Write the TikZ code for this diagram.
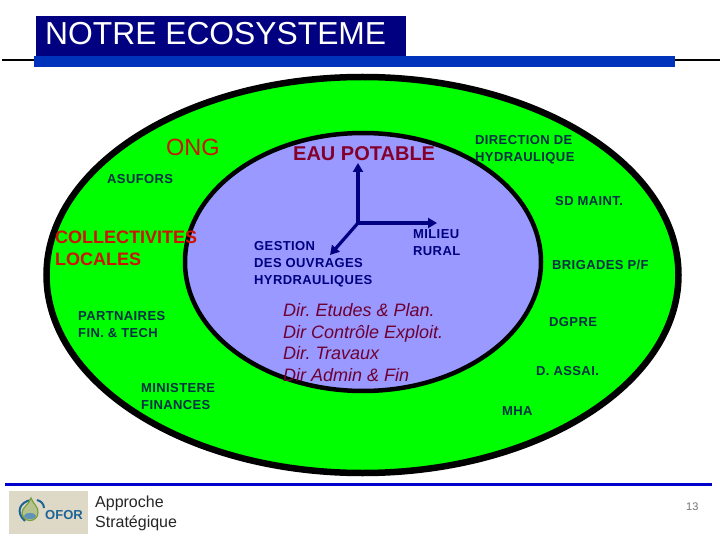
\documentclass[tikz,border=0pt]{standalone}
\usepackage{fontspec}
\setmainfont{Liberation Sans}
\newfontfamily\labfont[LetterSpace=3]{Liberation Sans}
\usetikzlibrary{arrows.meta}
\definecolor{titleNavy}{RGB}{0,0,128}
\definecolor{barBlue}{RGB}{0,51,187}
\definecolor{footBlue}{RGB}{0,0,204}
\definecolor{ringGreen}{RGB}{0,255,0}
\definecolor{coreBlue}{RGB}{153,153,255}
\definecolor{labelDark}{RGB}{0,48,70}
\definecolor{labelRed}{RGB}{204,20,0}
\definecolor{labelWine}{RGB}{110,0,50}
\definecolor{logoTan}{RGB}{222,216,198}
\definecolor{logoBlue}{RGB}{30,100,150}
\definecolor{logoGreen}{RGB}{120,160,60}
\newcommand{\pxfont}[1]{\fontsize{#1}{#1}\selectfont}
\tikzset{
	lab/.style={anchor=west,inner sep=0pt,align=left,text=labelDark,font=\pxfont{13}\labfont\bfseries,text depth=0pt},
	redlab/.style={lab,text=labelRed},
	axe/.style={draw=titleNavy,line width=3.2pt,-{Triangle[length=9pt,width=10pt]}}
}
\begin{document}
\begin{tikzpicture}[x=1pt,y=-1pt]
	\useasboundingbox (0,0) rectangle (720,540);
	\fill[white] (0,0) rectangle (720,540);

	% Header
	\draw[line width=1.5pt] (2,60) -- (720,60);
	\fill[barBlue] (34,56) rectangle (675,67);
	\fill[titleNavy] (36,16) rectangle (406,56);
	\node[anchor=west,inner sep=0pt,text=white,font=\pxfont{31.8}] (titre) at (45,34) {NOTRE ECOSYSTEME};

	% Rings
	\draw[fill=ringGreen,line width=6.5pt] (362.5,275) ellipse [x radius=316,y radius=198];
	\draw[fill=coreBlue,line width=4.5pt] (363,262) ellipse [x radius=178,y radius=129];

	% Axes
	\coordinate (axeO) at (358,223);
	\coordinate (axeH) at (358,163);
	\coordinate (axeD) at (437,223);
	\coordinate (axeG) at (330,255);
	\draw[axe] (axeO) -- (axeH);
	\draw[axe] (axeO) -- (axeD);
	\draw[axe] (axeO) -- (axeG);

	% Outer ring
	\node[redlab,font=\pxfont{23.5}] (ong) at (166,147) {ONG};
	\node[lab] (asufors) at (107,179) {ASUFORS};
	\node[redlab,font=\pxfont{18}\bfseries] (collect) at (55,248.5) {COLLECTIVITES\\[4pt]LOCALES};
	\node[lab] (partners) at (78,324) {PARTNAIRES\\[4pt]FIN. \& TECH};
	\node[lab] (minist) at (141,396.5) {MINISTERE\\[4pt]FINANCES};
	\node[lab] (hydrau) at (475,148) {DIRECTION DE\\[4pt]HYDRAULIQUE};
	\node[lab] (sdmaint) at (555,201) {SD MAINT.};
	\node[lab] (brigades) at (552,265) {BRIGADES P/F};
	\node[lab] (dgpre) at (549,322) {DGPRE};
	\node[lab] (assai) at (536,371) {D. ASSAI.};
	\node[lab] (mha) at (502,411) {MHA};

	% Core
	\node[redlab,font=\pxfont{20}\bfseries,text=labelWine!85!red] (eau) at (293,154) {EAU POTABLE};
	\node[lab,text=titleNavy] (gestion) at (254,262.5) {GESTION\\[4pt]DES OUVRAGES\\[4pt]HYRDRAULIQUES};
	\node[lab,text=titleNavy] (milieu) at (413,243) {MILIEU\\[4pt]RURAL};
	\node[lab,text=labelWine,font=\pxfont{18}\itshape\frenchspacing] (dirs) at (283,342.5) {Dir. Etudes \& Plan.\\[3.7pt]Dir Contrôle Exploit.\\[3.7pt]Dir. Travaux\\[3.7pt]Dir Admin \& Fin};

	% Footer
	\draw[footBlue,line width=3pt] (5,484) -- (712,484);
	\fill[logoTan] (9,491) rectangle (88,534);
	\draw[logoBlue,line width=2pt] (31,500) .. controls (20,502) and (15,512) .. (25,521);
	\draw[logoBlue,line width=2pt] (37,500) .. controls (41,501) and (44,504) .. (44,508);
	\draw[logoGreen,fill=logoTan!60!logoGreen,line width=1.2pt] (31,498) .. controls (33,504) and (39,507) .. (38,513) .. controls (37,523) and (23,523) .. (22,513) .. controls (22,507) and (29,505) .. cycle;
	\fill[logoBlue!70] (30,516) ellipse [x radius=6,y radius=3];
	\node[anchor=west,inner sep=0pt,text=logoBlue,font=\pxfont{13}\bfseries] (logo) at (45,515) {OFOR};
	\node[anchor=west,inner sep=0pt,align=left,text=black!85,font=\pxfont{16}] (approche) at (95,513.5) {Approche\\[4pt]Stratégique};
	\node[anchor=west,inner sep=0pt,text=black!55,font=\pxfont{11}] (page) at (686,507) {13};
\end{tikzpicture}
\end{document}
